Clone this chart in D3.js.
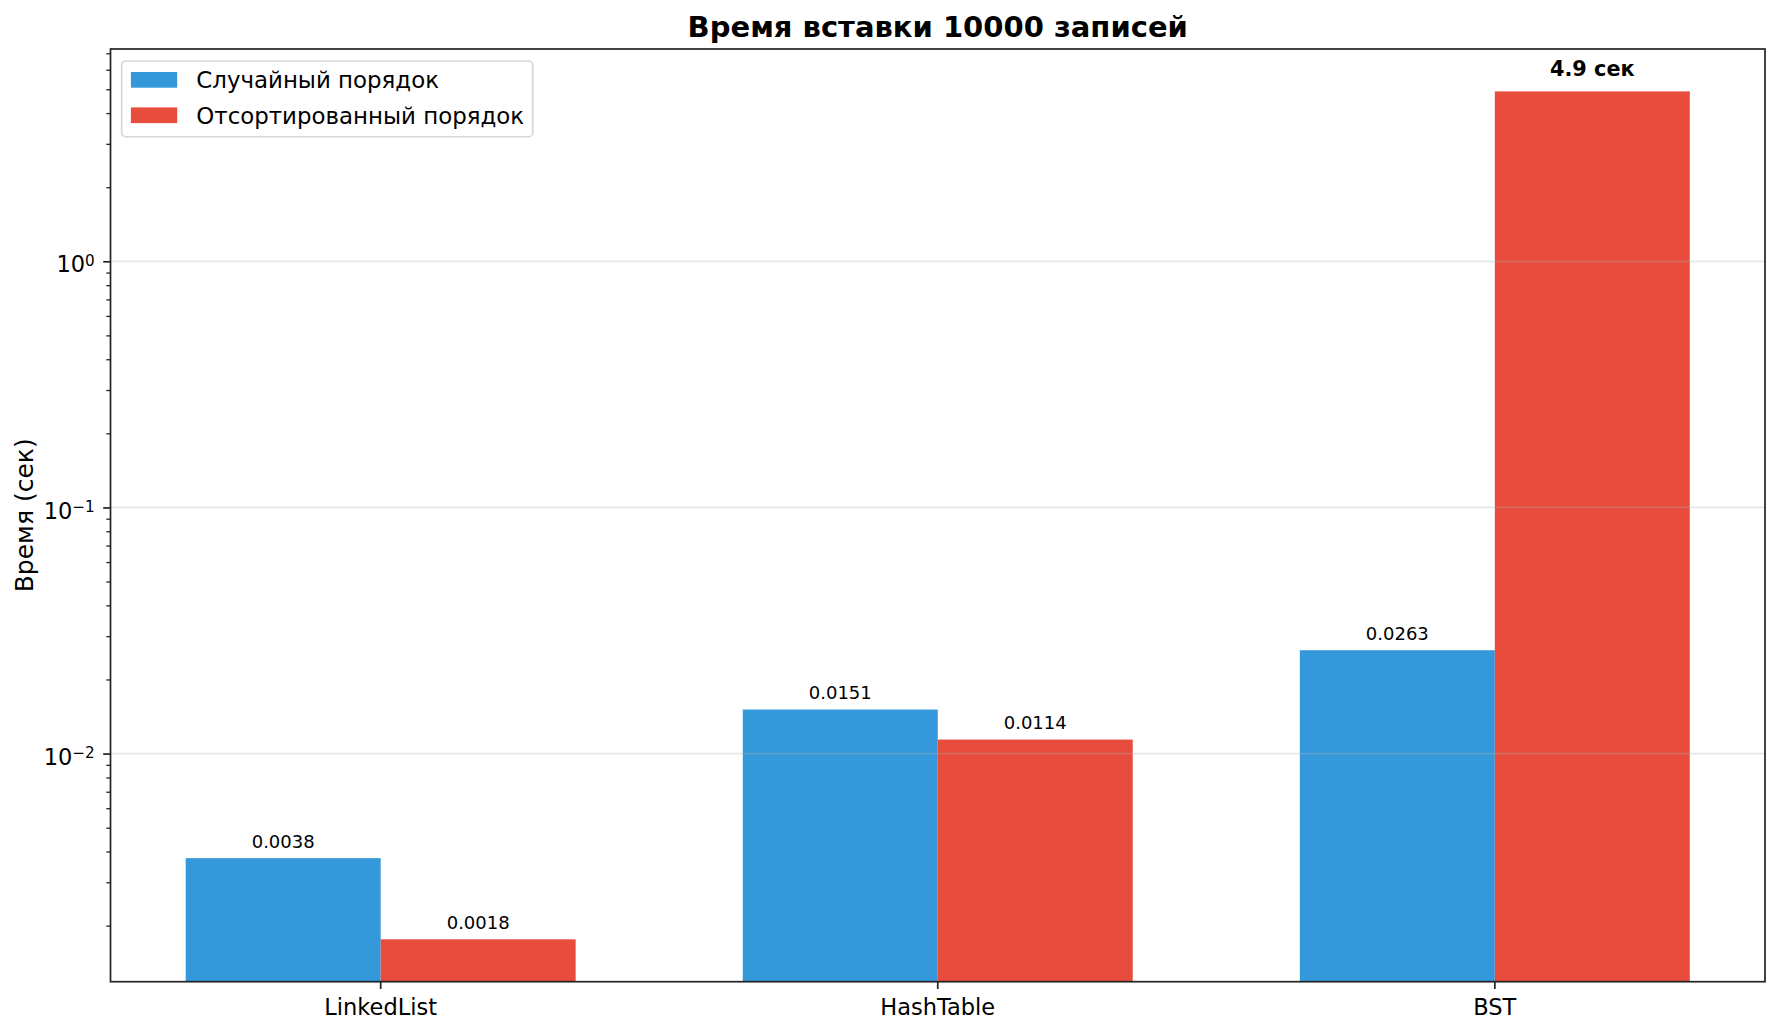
<!DOCTYPE html>
<html>
<head>
<meta charset="utf-8">
<script src="https://cdn.jsdelivr.net/npm/d3@7"></script>
<style>
  body { margin: 0; background: #fff; }
  svg { display: block; font-family: "DejaVu Sans", sans-serif; }
</style>
</head>
<body>
<svg id="chart" width="1781" height="1035"></svg>
<script>
// data
const categories = ['LinkedList', 'HashTable', 'BST']
const seriesNames = ['Случайный порядок', 'Отсортированный порядок']
const randomTimes = [0.00376, 0.0151, 0.0263]
const sortedTimes = [0.00176, 0.0114, 4.9]
const yTickValues = [0.01, 0.1, 1]
const titleText = 'Время вставки 10000 записей'
const yLabel = 'Время (сек)'

const colors = ['#3498db', '#e74c3c']
const margin = {top: 49, right: 16, bottom: 53.3, left: 110.5}
const W = 1781, H = 1035
const width = W - margin.left - margin.right
const height = H - margin.top - margin.bottom

const data = categories.map((c, i) => ({
  group: c,
  values: [
    {key: seriesNames[0], value: randomTimes[i]},
    {key: seriesNames[1], value: sortedTimes[i]}
  ]
}))

const svg = d3.select('#chart')
const g = svg.append('g').attr('transform', `translate(${margin.left},${margin.top})`)

/**
 * x axis: band per category, same spacing as bars of width 0.35
 */
function createXAxis(g) {
  const x = d3.scaleBand()
    .domain(categories)
    .range([0, width])
    .paddingInner(0.3)
    .paddingOuter(0.135)

  const axis = g.append('g')
    .attr('class', 'x-axis')
    .attr('transform', `translate(0,${height})`)
    .call(d3.axisBottom(x).tickSize(7.3).tickPadding(10))
  axis.select('.domain').remove()
  axis.selectAll('.tick line').attr('stroke', '#222').attr('stroke-width', 1.7)
  axis.selectAll('.tick text')
    .attr('fill', '#000')
    .attr('font-size', 22.5)
    .attr('font-family', '"DejaVu Sans", sans-serif')
  return x
}

/**
 * y axis: log scale with 5% margin in log space (like matplotlib autoscale)
 */
function createYAxis(g) {
  const all = randomTimes.concat(sortedTimes)
  const lo = Math.log10(d3.min(all)), hi = Math.log10(d3.max(all))
  const pad = (hi - lo) * 0.05
  const y = d3.scaleLog()
    .domain([Math.pow(10, lo - pad), Math.pow(10, hi + pad)])
    .range([height, 0])

  const minor = y.ticks().filter(t => !yTickValues.some(v => Math.abs(v - t) < 1e-12))
  const minorAxis = g.append('g')
    .attr('class', 'y-minor')
    .call(d3.axisLeft(y).tickValues(minor).tickSize(4.2).tickFormat(''))
  minorAxis.select('.domain').remove()
  minorAxis.selectAll('.tick line').attr('stroke', '#222').attr('stroke-width', 1.3)

  const axis = g.append('g')
    .attr('class', 'y-axis')
    .call(d3.axisLeft(y).tickValues(yTickValues).tickSize(7.3).tickPadding(8.5).tickFormat(() => '10'))
  axis.select('.domain').remove()
  axis.selectAll('.tick line').attr('stroke', '#222').attr('stroke-width', 1.7)
  axis.selectAll('.tick text')
    .attr('fill', '#000')
    .attr('font-size', 22.5)
    .attr('font-family', '"DejaVu Sans", sans-serif')
    .attr('dy', '0.47em')
    .each(function (d) {
      const exp = String(Math.round(Math.log10(d))).replace('-', '\u2212')
      d3.select(this).append('tspan')
        .attr('dy', -6.5)
        .attr('font-size', 15.2)
        .text(exp)
    })

  g.append('text')
    .attr('class', 'axis-label')
    .attr('fill', '#000')
    .attr('text-anchor', 'middle')
    .attr('font-size', 25)
    .attr('transform', `translate(${33.3 - margin.left},${height / 2}) rotate(-90)`)
    .text(yLabel)

  return y
}

const x = createXAxis(g)
const y = createYAxis(g)
const xSub = d3.scaleBand().domain(seriesNames).range([0, x.bandwidth()])
const color = d3.scaleOrdinal().domain(seriesNames).range(colors)

// bars
const groups = g.append('g')
  .selectAll('g')
  .data(data)
  .enter()
  .append('g')
  .attr('transform', d => `translate(${x(d.group)},0)`)

groups.selectAll('rect')
  .data(d => d.values)
  .enter()
  .append('rect')
  .attr('x', d => xSub(d.key))
  .attr('y', d => y(d.value))
  .attr('width', xSub.bandwidth())
  .attr('height', d => height - y(d.value))
  .attr('fill', d => color(d.key))

// value labels
groups.selectAll('text')
  .data(d => d.values)
  .enter()
  .append('text')
  .attr('text-anchor', 'middle')
  .attr('x', d => xSub(d.key) + xSub.bandwidth() / 2)
  .attr('y', d => d.value > 1 ? y(d.value * 1.1) - 5 : y(d.value * 1.1))
  .attr('font-size', d => d.value > 1 ? 20.8 : 18)
  .attr('font-weight', d => d.value > 1 ? 'bold' : 'normal')
  .attr('fill', '#000')
  .text(d => d.value > 1 ? `${d.value.toFixed(1)} сек` : d.value.toFixed(4))

// grid on top of bars (matplotlib default)
g.append('g')
  .selectAll('line')
  .data(yTickValues)
  .enter()
  .append('line')
  .attr('x1', 0)
  .attr('x2', width)
  .attr('y1', d => y(d))
  .attr('y2', d => y(d))
  .attr('stroke', '#b0b0b0')
  .attr('stroke-opacity', 0.3)
  .attr('stroke-width', 1.7)

// frame
g.append('rect')
  .attr('width', width)
  .attr('height', height)
  .attr('fill', 'none')
  .attr('stroke', '#222')
  .attr('stroke-width', 1.7)

// title
g.append('text')
  .attr('x', width / 2)
  .attr('y', 36.7 - margin.top)
  .attr('text-anchor', 'middle')
  .attr('font-size', 29)
  .attr('font-weight', 'bold')
  .attr('fill', '#000')
  .text(titleText)

// legend
const legend = g.append('g').attr('transform', `translate(${121.7 - margin.left},${61 - margin.top})`)
legend.append('rect')
  .attr('width', 411)
  .attr('height', 75.7)
  .attr('rx', 4)
  .attr('fill', '#fff')
  .attr('fill-opacity', 0.8)
  .attr('stroke', '#d6d6d6')
  .attr('stroke-width', 1.6)

const items = legend.selectAll('.item')
  .data(seriesNames)
  .enter()
  .append('g')
  .attr('class', 'item')
  .attr('transform', (d, i) => `translate(0,${i * 35.4})`)
items.append('rect')
  .attr('x', 9.2)
  .attr('y', 11)
  .attr('width', 46.3)
  .attr('height', 15.7)
  .attr('fill', d => color(d))
items.append('text')
  .attr('x', 74.6)
  .attr('y', 27.2)
  .attr('font-size', 22.9)
  .attr('fill', '#000')
  .text(d => d)
</script>
</body>
</html>
